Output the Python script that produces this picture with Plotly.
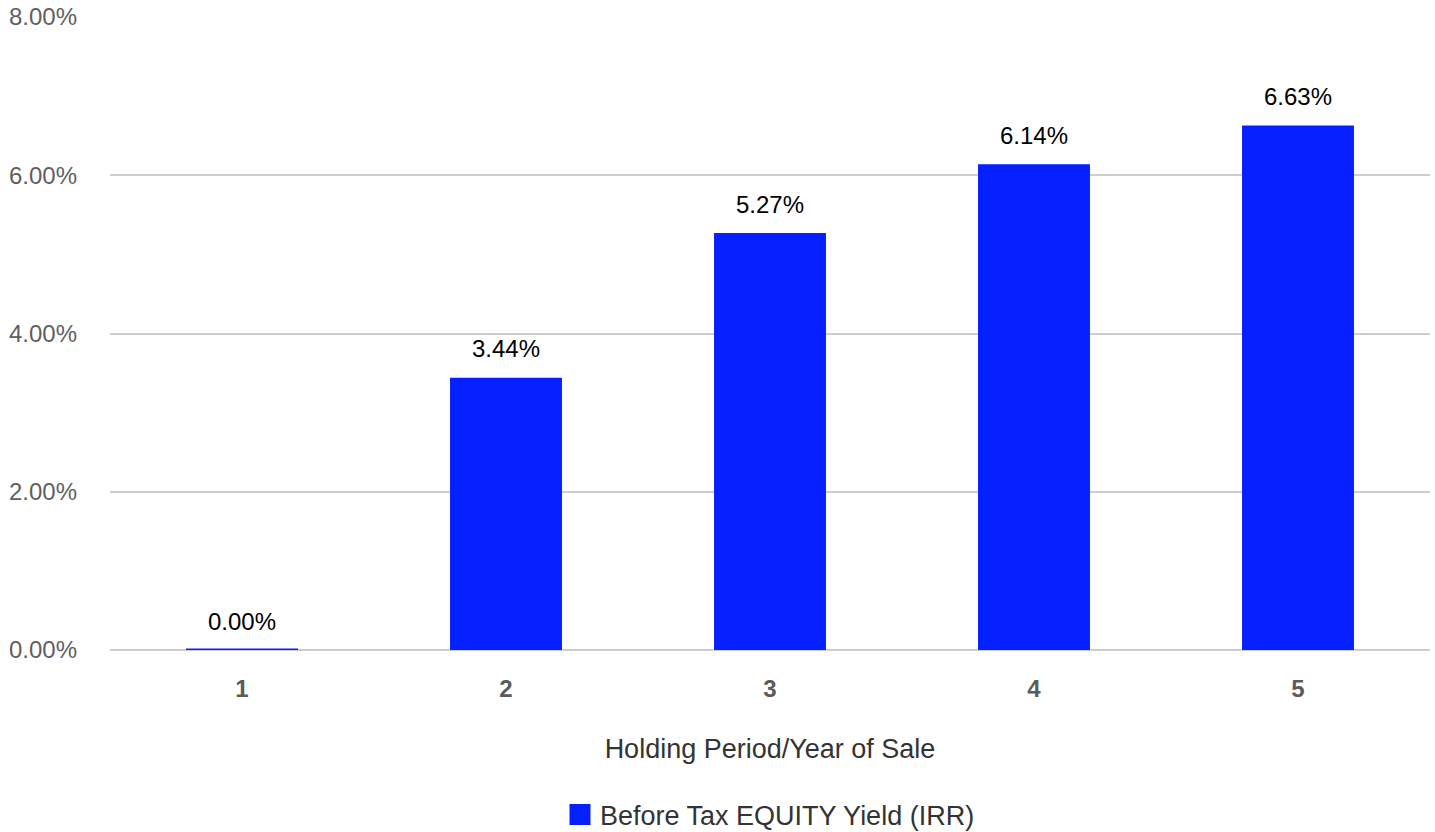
import plotly.graph_objects as go

years = ["1", "2", "3", "4", "5"]
irr = [0.0, 0.0344, 0.0527, 0.0614, 0.0663]
series_name = "Before Tax EQUITY Yield (IRR)"
y_ticks = [0, 0.02, 0.04, 0.06, 0.08]
y_labels = ["0.00%", "2.00%", "4.00%", "6.00%", "8.00%"]

FONT = "Liberation Sans, Arial, sans-serif"
BLUE = "#0520ff"

# zero-valued bars are shown as a thin outline, like the original chart
outline_w = [3 if v == 0 else 0 for v in irr]

fig = go.Figure()
fig.add_trace(go.Bar(
    x=years, y=irr, name=series_name,
    marker=dict(color=BLUE, line=dict(color=BLUE, width=outline_w)),
    showlegend=False,
))
# legend entry with a larger square swatch (no visible point)
fig.add_trace(go.Scatter(
    x=[years[0]], y=[None], mode="markers", name=series_name,
    marker=dict(symbol="square", size=16, color=BLUE,
                line=dict(color=BLUE, width=5)),
    showlegend=True, hoverinfo="skip",
))

for i, yv in enumerate(irr):
    fig.add_annotation(
        x=i, y=yv, text=f"{yv:.2%}", showarrow=False,
        yshift=29, yanchor="middle",
        font=dict(family=FONT, size=24, color="#000000"),
    )

fig.update_layout(
    width=1435, height=832,
    margin=dict(l=110, r=5, t=17, b=182, autoexpand=False),
    paper_bgcolor="white", plot_bgcolor="white",
    bargap=0.576,
    font=dict(family=FONT, size=24, color="#444444"),
    xaxis=dict(
        type="category", categoryorder="array", categoryarray=years,
        range=[-0.5, len(years) - 0.5],
        tickfont=dict(family=FONT, size=24, color="#5b5b5b", weight="bold"),
        showgrid=False, showline=False, ticks="",
        ticklabelstandoff=22,
        title=dict(text="Holding Period/Year of Sale", standoff=38,
                   font=dict(family=FONT, size=27, color="#333333")),
    ),
    yaxis=dict(
        range=[0, 0.08], tickvals=y_ticks, ticktext=y_labels,
        tickfont=dict(family=FONT, size=24, color="#5f5f5f"),
        gridcolor="#cccccc", gridwidth=1.5,
        zeroline=True, zerolinecolor="#cccccc", zerolinewidth=1.5,
        showline=False, ticks="", ticklabelstandoff=32,
    ),
    legend=dict(
        orientation="h", x=0.5, xanchor="center", y=-0.2607, yanchor="middle",
        font=dict(family=FONT, size=27, color="#333333"),
    ),
)

fig.write_html("out.html")
